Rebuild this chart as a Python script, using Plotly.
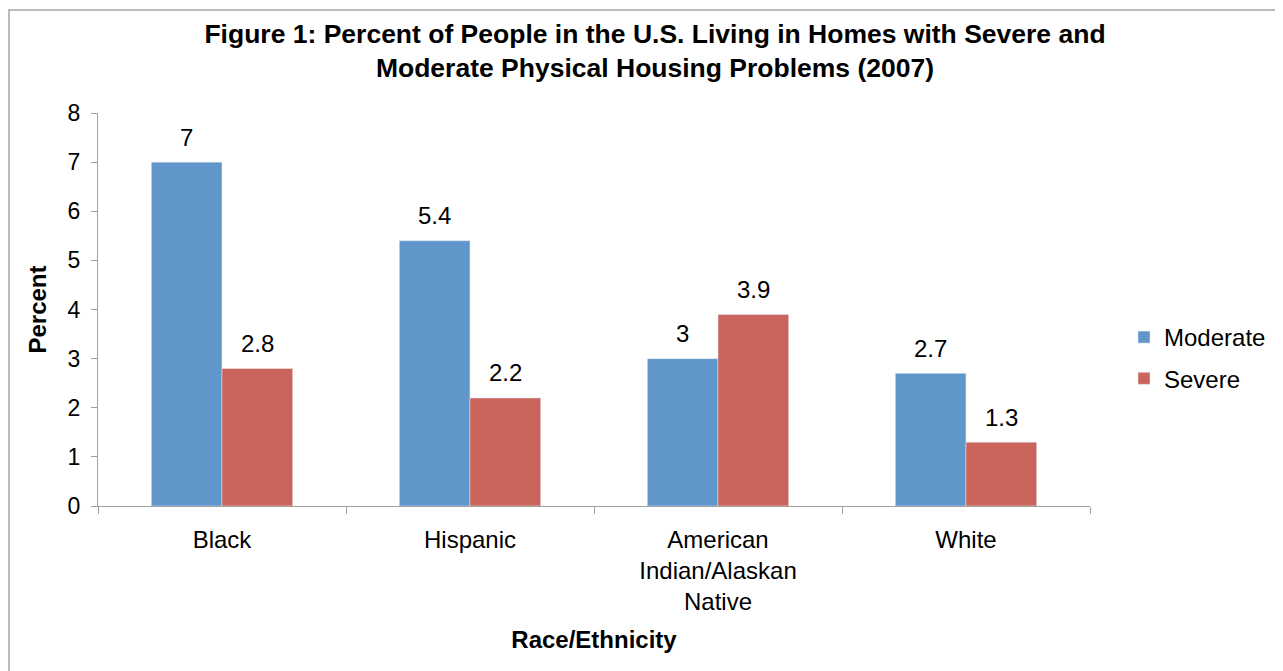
import plotly.graph_objects as go

categories = ["Black", "Hispanic", "American<br>Indian/Alaskan<br>Native", "White"]
moderate = [7, 5.4, 3, 2.7]
severe = [2.8, 2.2, 3.9, 1.3]
y_ticks = [0, 1, 2, 3, 4, 5, 6, 7, 8]

FONT = "Liberation Sans, Arial, sans-serif"
BLUE = "#6096CA"
RED = "#CC645E"
AXIS = "#A0A0A0"

W, H = 1275, 663
L, T, R, B = 90, 105, W - 1082, H - 498
PW = W - L - R
PH = H - T - B
BARGAP = 0.43
bar_px = PW / len(categories) * (1 - BARGAP) / 2

fig = go.Figure()
fig.add_trace(go.Bar(name="Moderate", x=categories, y=moderate, marker_color=BLUE,
                     legendgroup="m"))
fig.add_trace(go.Bar(name="Severe", x=categories, y=severe, marker_color=RED,
                     legendgroup="s"))

annotations = []
for vals, sh in ((moderate, -bar_px / 2), (severe, bar_px / 2)):
    for c, v in zip(categories, vals):
        annotations.append(dict(x=c, y=v, xref="x", yref="y", text=f"{v:g}",
                                showarrow=False, xshift=sh, yshift=25,
                                yanchor="middle", font=dict(size=24, color="#000")))

fig.update_layout(
    width=W, height=H,
    barmode="group", bargap=BARGAP, bargroupgap=0,
    plot_bgcolor="white", paper_bgcolor="white",
    font=dict(family=FONT, size=24, color="#000"),
    margin=dict(l=L, r=R, t=T, b=B, autoexpand=False),
    title=dict(text="Figure 1: Percent of People in the U.S. Living in Homes with Severe and<br>Moderate Physical Housing Problems (2007)",
               x=647 / W, xanchor="center", y=1 - 35 / H, yanchor="middle",
               font=dict(size=26.5, family=FONT, color="#000", weight="bold")),
    legend=dict(xref="container", yref="container",
                x=1116 / W, y=(H - 350) / H, xanchor="left", yanchor="middle",
                font=dict(size=24), tracegroupgap=7,
                bgcolor="rgba(0,0,0,0)"),
    xaxis=dict(showline=True, linecolor=AXIS, linewidth=1,
               ticks="outside", tickson="boundaries", ticklen=7, tickcolor=AXIS,
               ticklabelstandoff=12,
               title=dict(text="Race/Ethnicity", font=dict(size=24, weight="bold"), standoff=16),
               tickfont=dict(size=24)),
    yaxis=dict(range=[0, 8], tickvals=y_ticks, showline=True, linecolor=AXIS,
               linewidth=1, ticks="outside", ticklen=6, tickcolor=AXIS,
               ticklabelstandoff=6,
               showgrid=False, zeroline=False, tickfont=dict(size=23),
               title=dict(text="Percent", font=dict(size=24, weight="bold"), standoff=14)),
    annotations=annotations,
    shapes=[dict(type="rect", xref="paper", yref="paper",
                 x0=(1 - L) / PW, x1=(W + 50 - L) / PW,
                 y0=(498 - H - 50) / PH, y1=(498 - 2) / PH,
                 line=dict(color="#A6A6A6", width=1.5), layer="below")],
)

fig.write_html("out.html")
